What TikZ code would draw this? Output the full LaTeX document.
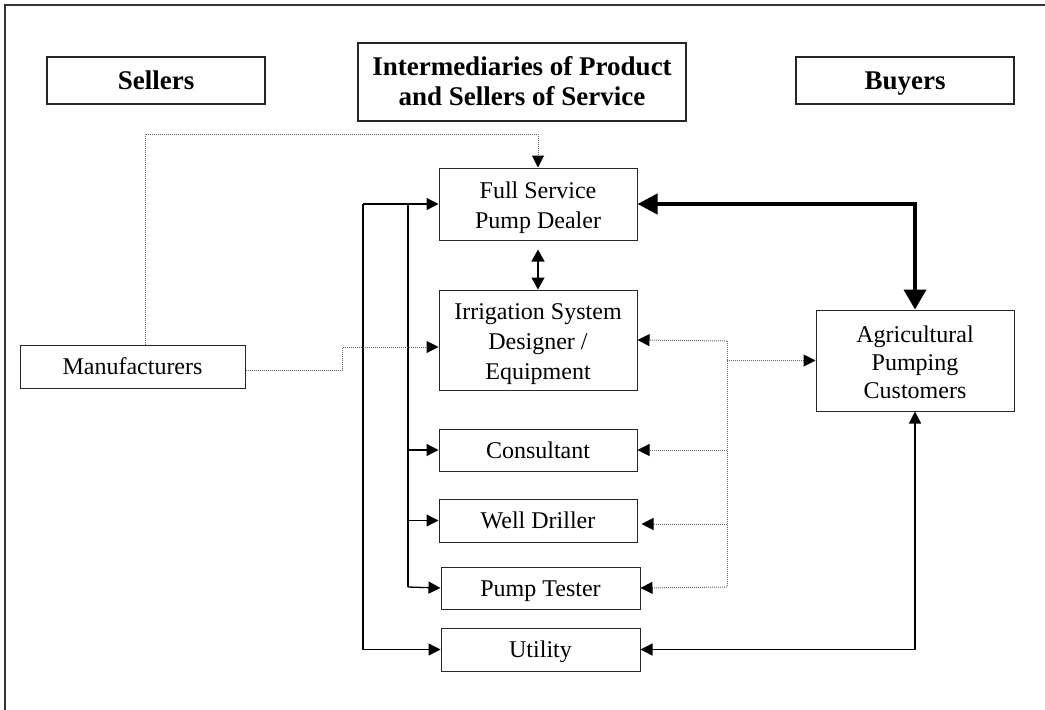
\documentclass[tikz,border=0pt]{standalone}
\usepackage{fontspec}
\setmainfont{Liberation Serif}
\usetikzlibrary{arrows.meta}
\begin{document}
\begin{tikzpicture}[x=1pt,y=-1pt,
  box/.style={draw=black!85,line width=1pt,inner sep=0pt,align=center,
    font=\fontsize{24}{28}\selectfont,text height=16pt,text depth=0pt},
  headbox/.style={draw=black!85,line width=1.3pt,inner sep=0pt,align=center,
    font=\fontsize{27}{32}\selectfont\bfseries,text height=18pt,text depth=0pt},
  lbl/.style={font=\fontsize{24}{28}\selectfont,inner sep=0pt,anchor=base},
  headlbl/.style={font=\fontsize{27}{32}\selectfont\bfseries,inner sep=0pt,anchor=base},
  solidarrow/.style={line width=1.3pt,-{Triangle[length=12pt,width=12pt]}},
  solidline/.style={line width=1.3pt},
  dotline/.style={line width=1pt,black!60,dash pattern=on 1pt off 1pt},
  dotarrow/.style={dotline,-{Triangle[length=12pt,width=12pt,color=black]}},
  thickarrow/.style={line width=4pt,
    {Triangle[length=20pt,width=20pt]}-{Triangle[length=20pt,width=22pt]}}
]
\useasboundingbox (0,0) rectangle (1045,710);
% frame
\draw[line width=2pt,black!80] (5,710) -- (5,4.5) -- (1046,4.5);

% headings
\node[headbox,minimum width=218pt,minimum height=47pt] (sellers) at (156,80.5) {Sellers};
\node[headbox,minimum width=328pt,minimum height=78pt] (inter) at (522,82) {};
\node[headlbl] (inter1) at (522,75) {Intermediaries of Product};
\node[headlbl] (inter2) at (522,105) {and Sellers of Service};
\node[headbox,minimum width=218pt,minimum height=47pt] (buyers) at (905,80.5) {Buyers};

% boxes
\node[box,minimum width=198pt,minimum height=72pt] (fsd) at (538,204) {};
\node[lbl] (fsd1) at (538,198.3) {Full Service};
\node[lbl] (fsd2) at (538,228.3) {Pump Dealer};
\node[box,minimum width=198pt,minimum height=100pt] (isd) at (538,340) {};
\node[lbl] (isd1) at (538,319) {Irrigation System};
\node[lbl] (isd2) at (538,349) {Designer /};
\node[lbl] (isd3) at (538,379) {Equipment};
\node[box,minimum width=198pt,minimum height=42pt] (cons) at (538,450) {Consultant};
\node[box,minimum width=198pt,minimum height=43pt] (well) at (538,520.5) {Well Driller};
\node[box,minimum width=199pt,minimum height=42pt] (ptest) at (540.5,588) {Pump Tester};
\node[box,minimum width=199pt,minimum height=43pt] (util) at (540.5,649.5) {Utility};
\node[box,minimum width=225pt,minimum height=43pt] (manu) at (132.5,366.5) {Manufacturers};
\node[box,minimum width=198pt,minimum height=101pt] (agri) at (915,360.5) {};
\node[lbl] (agri1) at (915,342) {Agricultural};
\node[lbl] (agri2) at (915,370) {Pumping};
\node[lbl] (agri3) at (915,398) {Customers};

% junction coordinates
\coordinate (jo) at (363,204);
\coordinate (ji) at (408,204);
\coordinate (jib) at (408,587);
\coordinate (mup) at (145,345);
\coordinate (mtop) at (538,134);
\coordinate (mbend) at (342,370);
\coordinate (rtop) at (727,341);
\coordinate (rbot) at (727,587);

% solid left connectors
\draw[solidarrow] (jo) -- (fsd.west);
\draw[solidarrow] (jo) |- (util.west);
\draw[solidline] (ji) -- (jib);
\draw[solidarrow] (408,450) -- (cons.west);
\draw[solidarrow] (408,520.5) -- (well.west);
\draw[solidarrow] (jib) -- (ptest.west);

% double arrow between dealer and designer
\draw[line width=1.3pt,{Triangle[length=12pt,width=13pt]}-{Triangle[length=12pt,width=13pt]}]
  ([yshift=-9pt]fsd.south) -- (isd.north);

% thick arrow dealer <-> customers
\draw[thickarrow] (fsd.east) -| (agri.north);

% utility <-> customers
\draw[line width=1.3pt,{Triangle[length=12pt,width=12pt]}-{Triangle[length=12pt,width=12pt]}]
  (util.east) -| (agri.south);

% dotted from manufacturers
\draw[dotarrow] (mup) |- (mtop) -- (fsd.north);
\draw[dotarrow] ([yshift=-3.5pt]manu.east) -- (mbend) |- ([yshift=-7pt]isd.west);

% dotted right bus
\draw[dotline] (rtop) -- (rbot);
\draw[dotarrow] (rtop) -- (isd.east);
\draw[dotarrow] (727,450) -- (cons.east);
\draw[dotarrow] (727,524) -- ([xshift=4pt,yshift=-3.5pt]well.east);
\draw[dotarrow] (rbot) -- (ptest.east);
\draw[dotarrow] (727,360.5) -- (agri.west);
\end{tikzpicture}
\end{document}
